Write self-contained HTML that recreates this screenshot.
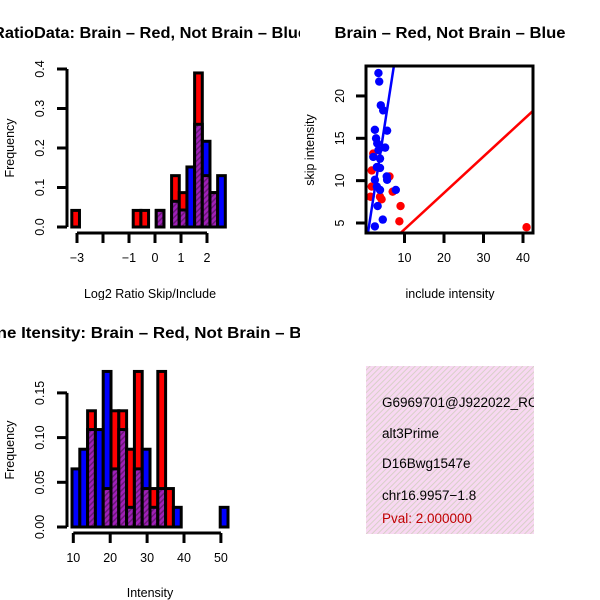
<!DOCTYPE html>
<html><head><meta charset="utf-8"><style>
body{margin:0;background:#fff;}
svg{display:block;font-family:"Liberation Sans",sans-serif;}
</style></head><body>
<svg id="s" width="600" height="600" viewBox="0 0 600 600">
<defs>
<pattern id="hatch" width="4" height="4" patternUnits="userSpaceOnUse" patternTransform="rotate(45)">
<rect width="4" height="4" fill="#a020b8"/><rect width="1.5" height="4" fill="#6a1878"/></pattern>
<pattern id="pinkhatch" width="4" height="4" patternUnits="userSpaceOnUse" patternTransform="rotate(45)">
<rect width="4" height="4" fill="#f8d8f2"/><rect width="1" height="4" fill="#d8d0c8"/></pattern>
<clipPath id="c1"><rect x="0" y="0" width="300" height="300"/></clipPath>
<clipPath id="c2"><rect x="300" y="0" width="300" height="300"/></clipPath>
<clipPath id="c3"><rect x="0" y="300" width="300" height="300"/></clipPath>
<clipPath id="c4"><rect x="366" y="366" width="168" height="168"/></clipPath>
</defs>
<g id="p1" clip-path="url(#c1)"></g>
<g id="p2" clip-path="url(#c2)"></g>
<g id="p3" clip-path="url(#c3)"></g>
<g id="p4">
<rect x="366" y="366" width="168" height="168" fill="url(#pinkhatch)"/>
<g clip-path="url(#c4)" font-size="13.5">
<text x="382" y="407">G6969701@J922022_RC</text>
<text x="382" y="438">alt3Prime</text>
<text x="382" y="468">D16Bwg1547e</text>
<text x="382" y="500">chr16.9957−1.8</text>
<text x="382" y="523" fill="#c00000">Pval: 2.000000</text>
</g></g>
</svg>
<script>
// Top-left histogram: log2 ratio
const ratioRed = [0.042,0,0,0,0,0,0,0,0.042,0.042,0,0.042,0,0.13,0.087,0,0.39,0.13,0.087,0,0];
const ratioBlue = [0,0,0,0,0,0,0,0,0,0,0,0.042,0,0.065,0.043,0.152,0.26,0.217,0.087,0.13,0];
const ratioXTicks = [-3,-1,0,1,2];
const ratioYTicks = [0.0,0.1,0.2,0.3,0.4];
// Bottom-left histogram: intensity
const intRed = [0,0,0.13,0,0.043,0.13,0.13,0.087,0.174,0.043,0.043,0.174,0.043,0,0,0,0,0,0,0];
const intBlue = [0.065,0.087,0.109,0.109,0.174,0.065,0.109,0.022,0.065,0.087,0.022,0.043,0,0.022,0,0,0,0,0,0.022];
const intXTicks = [10,20,30,40,50];
const intYTicks = [0.00,0.05,0.10,0.15];
// Scatter
const blueX = [3.4,3.6,4.0,4.6,5.6,2.5,2.8,3.1,5.1,2.1,3.8,3.0,3.8,5.5,5.6,2.5,3.0,3.8,7.8,3.2,4.5,2.5,3.4];
const blueY = [22.7,21.7,18.9,18.3,15.9,16.0,15.0,14.4,13.9,12.8,12.6,11.6,11.5,10.5,10.1,10.1,9.3,8.9,8.9,7.0,5.4,4.6,13.6];
const redX = [1.7,1.4,1.7,2.1,4.2,3.8,6.2,7.0,9.0,8.7,40.9];
const redY = [11.2,8.1,9.3,13.2,7.8,8.1,10.5,8.7,7.0,5.2,4.5];
const redFit = [-0.05,0.43];
const blueFit = [1.6,3.0];
const scXTicks = [10,20,30,40];
const scYTicks = [5,10,15,20];

const NS="http://www.w3.org/2000/svg";
function mk(parent,tag,attrs){const e=document.createElementNS(NS,tag);for(const k in attrs)e.setAttribute(k,attrs[k]);parent.appendChild(e);return e;}
function txt(parent,x,y,s,attrs){const e=mk(parent,'text',Object.assign({x:x,y:y,'text-anchor':'middle'},attrs||{}));e.textContent=s;return e;}

function hist(g,red,blue,x0,binW,sx,sy,xTicks,yTicks,yFmt,axisXRange,yTop,opts){
  const n=red.length;
  for(let i=0;i<n;i++){
    const xa=sx(x0+i*binW), xb=sx(x0+(i+1)*binW);
    const r=red[i], b=blue[i];
    const mx=Math.max(r,b), mn=Math.min(r,b);
    const col = r>=b ? 'red' : 'blue';
    const hi=mk(g,'rect',{x:xa,y:sy(mx),width:xb-xa,height:sy(0)-sy(mx),fill:col,stroke:'#000','stroke-width':3});
    
    
    if(mn>0){
      const lo=mk(g,'rect',{x:xa,y:sy(mn),width:xb-xa,height:sy(0)-sy(mn),fill:'url(#hatch)',stroke:'#000','stroke-width':3});
      
      
    }
  }
  const ya=mk(g,'line',{x1:opts.yAxisX,x2:opts.yAxisX,y1:sy(0),y2:sy(yTicks[yTicks.length-1]),stroke:'#000','stroke-width':3});
  
  
  yTicks.forEach(v=>{
    mk(g,'line',{x1:opts.yAxisX-10,x2:opts.yAxisX,y1:sy(v),y2:sy(v),stroke:'#000','stroke-width':3});
    const t=txt(g,0,0,yFmt(v),{transform:`translate(${opts.yAxisX-23},${sy(v)}) rotate(-90)`,'font-size':12.5});
    
    
  });
  const xa=mk(g,'line',{x1:sx(axisXRange[0]),x2:sx(axisXRange[1]),y1:opts.xAxisY,y2:opts.xAxisY,stroke:'#000','stroke-width':3});
  
  
  opts.xTickPos.forEach(v=>mk(g,'line',{x1:sx(v),x2:sx(v),y1:opts.xAxisY,y2:opts.xAxisY+10,stroke:'#000','stroke-width':3}));
  xTicks.forEach(v=>{
    const t=txt(g,sx(v),opts.xAxisY+29,String(v).replace('-','−'),{'font-size':12.5});
    
    
  });
}

// Panel 1
(function(){
  const g=document.getElementById('p1');
  
  
  const sx=v=>155+v*26, sy=v=>227-v*395;
  hist(g,ratioRed,ratioBlue,-3.2,6.2/21,sx,sy,ratioXTicks,ratioYTicks,v=>v.toFixed(1),[-3,2],0.4,
    {yAxisX:67,xAxisY:233,xTickPos:[-3,-2,-1,0,1,2]});
  let t=txt(g,150,38,'RatioData: Brain – Red, Not Brain – Blue',{'font-size':15.5,'font-weight':'bold',textLength:314,lengthAdjust:'spacingAndGlyphs'});
   
  t=txt(g,150,298,'Log2 Ratio Skip/Include',{'font-size':12.5});
   
  t=txt(g,0,0,'Frequency',{transform:'translate(14,148) rotate(-90)','font-size':12.5});
   
})();

// Panel 3
(function(){
  const g=document.getElementById('p3');
  
  
  const sx=v=>73.3+(v-10)*3.69, sy=v=>527-v*894;
  hist(g,intRed,intBlue,9.65,156/20/3.69,sx,sy,intXTicks,intYTicks,v=>v.toFixed(2),[10,50],0.15,
    {yAxisX:67,xAxisY:533,xTickPos:[10,20,30,40,50]});
  let t=txt(g,150,338,'Gene Itensity: Brain – Red, Not Brain – Blue',{'font-size':15.5,'font-weight':'bold',textLength:352,lengthAdjust:'spacingAndGlyphs'});
   
  t=txt(g,150,597,'Intensity',{'font-size':12.5});
   
  t=txt(g,0,0,'Frequency',{transform:'translate(14,450) rotate(-90)','font-size':12.5});
   
})();

// Panel 2 scatter
(function(){
  const g=document.getElementById('p2');
  
  
  const sx=v=>365+v*3.95, sy=v=>223-(v-5)*8.47;
  const X0=366,X1=533,Y0=66,Y1=233;
  const cp=mk(g,'clipPath',{id:'plotclip'}); mk(cp,'rect',{x:X0,y:Y0,width:X1-X0,height:Y1-Y0});
  const inner=mk(g,'g',{'clip-path':'url(#plotclip)'});
  redX.forEach((x,i)=>{const c=mk(inner,'circle',{cx:sx(x),cy:sy(redY[i]),r:4.2,fill:'red'});
     });
  blueX.forEach((x,i)=>{const c=mk(inner,'circle',{cx:sx(x),cy:sy(blueY[i]),r:4.2,fill:'blue'});
     });
  const xs=[-5,60];
  let l=mk(inner,'line',{x1:sx(xs[0]),y1:sy(redFit[0]+redFit[1]*xs[0]),x2:sx(xs[1]),y2:sy(redFit[0]+redFit[1]*xs[1]),stroke:'red','stroke-width':2.5});
   
  l=mk(inner,'line',{x1:sx(0),y1:sy(blueFit[0]),x2:sx(10),y2:sy(blueFit[0]+blueFit[1]*10),stroke:'blue','stroke-width':2.5});
   
  const box=mk(g,'rect',{x:X0,y:Y0,width:X1-X0,height:Y1-Y0,fill:'none',stroke:'#000','stroke-width':3});
   
  scXTicks.forEach(v=>{mk(g,'line',{x1:sx(v),x2:sx(v),y1:Y1,y2:Y1+10,stroke:'#000','stroke-width':3});
    const t=txt(g,sx(v),Y1+29,String(v),{'font-size':12.5});
     });
  scYTicks.forEach(v=>{mk(g,'line',{x1:X0-10,x2:X0,y1:sy(v),y2:sy(v),stroke:'#000','stroke-width':3});
    const t=txt(g,0,0,String(v),{transform:`translate(${X0-22},${sy(v)}) rotate(-90)`,'font-size':12.5});
     });
  let t=txt(g,450,38,'Brain – Red, Not Brain – Blue',{'font-size':15.5,'font-weight':'bold',textLength:231,lengthAdjust:'spacingAndGlyphs'});
   
  t=txt(g,450,298,'include intensity',{'font-size':12.5});
   
  t=txt(g,0,0,'skip intensity',{transform:'translate(314,150) rotate(-90)','font-size':12.5});
   
})();
</script>
</body></html>
